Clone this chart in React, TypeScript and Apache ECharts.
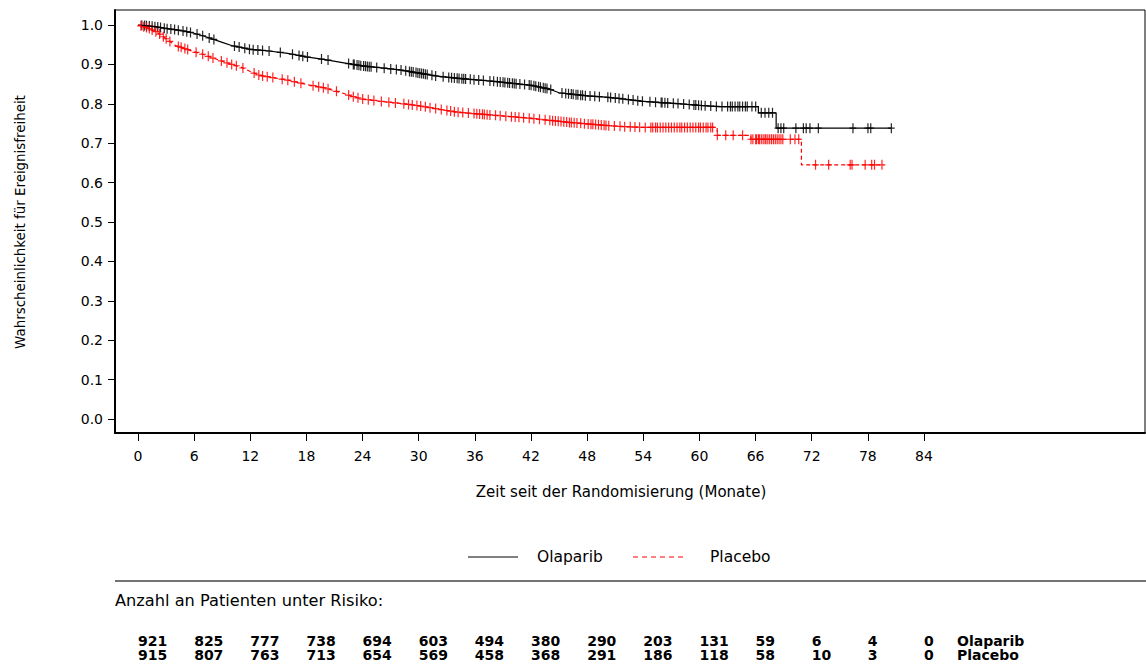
import React, { useEffect, useRef } from "react";
import * as echarts from "echarts";

// ---- data ----
const xTicks = [0, 6, 12, 18, 24, 30, 36, 42, 48, 54, 60, 66, 72, 78, 84];
const yTicks = [0, 0.1, 0.2, 0.3, 0.4, 0.5, 0.6, 0.7, 0.8, 0.9, 1.0];

const olaparibTime = [0, 1, 2, 3, 4, 5, 6, 7, 8, 9, 10, 11, 12, 14, 16, 18, 20, 22, 24, 26, 28, 30, 32, 34, 36, 38, 40, 42, 44, 45, 48, 50, 52, 54, 56, 58, 60, 62, 66.3, 66.3, 68.2, 68.2, 80.5];
const olaparibSurv = [1, 0.998, 0.995, 0.991, 0.988, 0.984, 0.979, 0.972, 0.964, 0.956, 0.948, 0.943, 0.938, 0.934, 0.928, 0.919, 0.912, 0.904, 0.896, 0.891, 0.886, 0.878, 0.87, 0.865, 0.861, 0.857, 0.852, 0.847, 0.837, 0.828, 0.82, 0.817, 0.812, 0.806, 0.803, 0.8, 0.796, 0.793, 0.793, 0.777, 0.777, 0.738, 0.738];

const placeboTime = [0, 1, 2, 3, 4, 5, 6, 7, 8, 9, 10, 11, 12, 13, 14, 16, 18, 20, 22, 23, 24, 26, 28, 30, 32, 34, 36, 38, 40, 42, 44, 46, 48, 50, 52, 54, 61.9, 61.9, 65.5, 65.5, 70.9, 70.9, 79.7];
const placeboSurv = [1, 0.993, 0.982, 0.965, 0.948, 0.94, 0.932, 0.925, 0.916, 0.908, 0.9, 0.893, 0.882, 0.872, 0.868, 0.86, 0.849, 0.84, 0.826, 0.818, 0.812, 0.806, 0.801, 0.795, 0.787, 0.779, 0.775, 0.771, 0.767, 0.763, 0.758, 0.753, 0.749, 0.745, 0.742, 0.74, 0.74, 0.72, 0.72, 0.71, 0.71, 0.645, 0.645];

const olaparibCensor = [0.4, 0.7, 0.9, 1.2, 1.5, 1.8, 2.1, 2.4, 2.8, 3.1, 3.5, 3.9, 4.3, 4.8, 5.2, 5.6, 6.3, 6.9, 7.6, 8.1, 10.3, 10.8, 11.4, 11.9, 12.3, 12.8, 13.3, 14.0, 15.2, 16.5, 17.2, 17.6, 18.1, 19.6, 20.3, 22.5, 23.0, 23.1, 23.4, 23.6, 23.8, 24.1, 24.3, 24.5, 24.7, 24.9, 25.5, 26.3, 27.0, 27.6, 28.1, 28.6, 29.0, 29.2, 29.4, 29.7, 29.9, 30.1, 30.3, 30.5, 30.7, 30.9, 31.4, 31.8, 32.6, 33.2, 33.5, 33.8, 34.1, 34.3, 34.6, 34.8, 35.0, 35.5, 35.9, 36.4, 36.9, 37.6, 38.0, 38.4, 38.7, 39.0, 39.2, 39.5, 39.7, 40.0, 40.2, 40.4, 40.8, 41.3, 41.8, 42.0, 42.3, 42.5, 42.8, 43.0, 43.3, 43.5, 43.7, 44.1, 45.3, 45.7, 46.0, 46.3, 46.5, 46.8, 47.0, 47.3, 47.5, 47.8, 48.3, 48.8, 49.3, 50.2, 50.5, 51.0, 51.4, 51.8, 52.4, 52.9, 53.4, 53.9, 54.7, 55.3, 55.9, 56.0, 56.3, 56.6, 57.2, 57.7, 58.3, 58.9, 59.4, 59.6, 59.9, 60.2, 60.6, 61.2, 61.8, 62.4, 63.0, 63.3, 63.5, 63.8, 64.1, 64.3, 64.6, 64.9, 65.1, 65.6, 66.0, 66.6, 67.0, 67.4, 67.8, 68.4, 68.7, 69.0, 70.3, 71.1, 71.4, 71.8, 72.7, 76.4, 78.0, 78.3, 80.5];

const placeboCensor = [0.3, 0.6, 0.9, 1.2, 1.5, 1.9, 2.3, 2.7, 3.0, 3.4, 4.3, 4.6, 5.0, 5.3, 6.2, 6.9, 7.5, 8.0, 8.9, 9.5, 10.0, 10.5, 11.2, 12.4, 12.9, 13.3, 13.8, 14.4, 15.4, 16.0, 16.7, 17.4, 18.7, 19.3, 19.8, 20.3, 21.2, 22.5, 23.0, 23.5, 24.0, 24.6, 25.2, 26.0, 26.8, 27.5, 28.4, 28.9, 29.3, 29.8, 30.2, 30.7, 31.2, 31.8, 32.4, 33.0, 33.4, 33.8, 34.2, 34.7, 35.3, 35.9, 36.2, 36.5, 36.8, 37.0, 37.3, 37.6, 38.2, 38.7, 39.3, 39.9, 40.3, 40.7, 41.2, 41.8, 42.3, 42.9, 43.5, 44.0, 44.3, 44.6, 44.9, 45.2, 45.5, 45.8, 46.1, 46.3, 46.6, 46.9, 47.3, 47.7, 48.1, 48.4, 48.6, 48.9, 49.2, 49.5, 49.8, 50.0, 50.3, 50.9, 51.5, 52.0, 52.6, 53.1, 53.6, 54.2, 54.8, 55.0, 55.3, 55.5, 55.8, 56.1, 56.4, 56.7, 57.0, 57.3, 57.6, 57.9, 58.1, 58.4, 58.7, 59.0, 59.3, 59.6, 59.9, 60.1, 60.4, 60.7, 60.9, 61.2, 61.4, 61.9, 62.8, 63.6, 64.6, 65.5, 65.7, 66.0, 66.1, 66.3, 66.4, 66.6, 66.8, 67.0, 67.1, 67.3, 67.5, 67.7, 67.9, 68.1, 68.3, 68.5, 68.7, 68.9, 69.7, 70.2, 70.6, 72.4, 73.8, 76.1, 76.3, 77.7, 78.4, 78.7, 79.5];

const riskTimes = [0, 6, 12, 18, 24, 30, 36, 42, 48, 54, 60, 66, 72, 78, 84];
const riskOlaparib = [921, 825, 777, 738, 694, 603, 494, 380, 290, 203, 131, 59, 6, 4, 0];
const riskPlacebo = [915, 807, 763, 713, 654, 569, 458, 368, 291, 186, 118, 58, 10, 3, 0];

const FONT = "'DejaVu Sans', Verdana, sans-serif";
const PLUS = "path://M3,0h1.2v4.4h2.8v1.2h-2.8v4.4h-1.2v-4.4h-3v-1.2h3z";

function survAt(times: number[], surv: number[], t: number): number {
  let i = 0;
  for (let k = 0; k < times.length; k++) if (times[k] <= t) i = k;
  if (i + 1 < times.length && times[i + 1] > times[i] && times[i + 1] > t) {
    const f = (t - times[i]) / (times[i + 1] - times[i]);
    return surv[i] + f * (surv[i + 1] - surv[i]);
  }
  return surv[i];
}

export default function App() {
  const ref = useRef<HTMLDivElement>(null);
  useEffect(() => {
    if (!ref.current) return;
    const chart = echarts.init(ref.current, undefined, { renderer: "svg" });
    const option: any = {
      animation: false,
      grid: {
        left: 115, top: 10, right: 1, bottom: 231,
        show: true, borderColor: "#000", borderWidth: 1,
      },
      xAxis: {
        type: "value", min: -2.458, max: 107.62,
        axisLine: { show: true, onZero: false, lineStyle: { color: "#000", width: 2 } },
        axisTick: { show: true, length: 8, customValues: xTicks, lineStyle: { color: "#000", width: 1 } },
        axisLabel: { customValues: xTicks, margin: 16, fontFamily: FONT, fontSize: 14, color: "#000" },
        splitLine: { show: false },
      },
      yAxis: {
        type: "value", min: -0.0355, max: 1.038,
        axisLine: { show: true, onZero: false, lineStyle: { color: "#000", width: 2 } },
        axisTick: { show: true, length: 7, customValues: yTicks, lineStyle: { color: "#000", width: 1 } },
        axisLabel: {
          customValues: yTicks, margin: 12, fontFamily: FONT, fontSize: 14, color: "#000",
          formatter: (v: number) => v.toFixed(1),
        },
        splitLine: { show: false },
      },
      series: [
        {
          type: "line", name: "Olaparib", showSymbol: false, silent: true,
          data: olaparibTime.map((t, i) => [t, olaparibSurv[i]]),
          lineStyle: { color: "#000", width: 1.2 },
        },
        {
          type: "line", name: "Placebo", showSymbol: false, silent: true,
          data: placeboTime.map((t, i) => [t, placeboSurv[i]]),
          lineStyle: { color: "#ff0000", width: 1.2, type: [4, 3] },
        },
        {
          type: "scatter", silent: true, symbol: PLUS, symbolSize: [7, 10],
          data: olaparibCensor.map((t) => [t, survAt(olaparibTime, olaparibSurv, t)]),
          itemStyle: { color: "#000", opacity: 0.85 },
        },
        {
          type: "scatter", silent: true, symbol: PLUS, symbolSize: [7, 10],
          data: placeboCensor.map((t) => [t, survAt(placeboTime, placeboSurv, t)]),
          itemStyle: { color: "#ff0000", opacity: 0.85 },
        },
      ],
    };
    chart.setOption(option);

    const px = (t: number) => chart.convertToPixel({ xAxisIndex: 0 }, t) as number;
    const graphic: any[] = [
      {
        type: "text", x: 20, y: 222, rotation: Math.PI / 2,
        style: { text: "Wahrscheinlichkeit für Ereignisfreiheit", fontFamily: FONT, fontSize: 13.4, fill: "#000", align: "center", verticalAlign: "middle" },
      },
      {
        type: "text", x: 621, y: 492,
        style: { text: "Zeit seit der Randomisierung (Monate)", fontFamily: FONT, fontSize: 15, fill: "#000", align: "center", verticalAlign: "middle" },
      },
      { type: "line", shape: { x1: 468, y1: 557, x2: 518, y2: 557 }, style: { stroke: "#000", lineWidth: 1 } },
      { type: "text", x: 537, y: 557, style: { text: "Olaparib", fontFamily: FONT, fontSize: 15.5, fill: "#000", verticalAlign: "middle" } },
      { type: "line", shape: { x1: 633, y1: 557, x2: 683, y2: 557 }, style: { stroke: "#ff0000", lineWidth: 1, lineDash: [5, 4] } },
      { type: "text", x: 710, y: 557, style: { text: "Placebo", fontFamily: FONT, fontSize: 15.5, fill: "#000", verticalAlign: "middle" } },
      { type: "line", shape: { x1: 115, y1: 581, x2: 1146, y2: 581 }, style: { stroke: "#444", lineWidth: 1.5 } },
      { type: "text", x: 115, y: 600, style: { text: "Anzahl an Patienten unter Risiko:", fontFamily: FONT, fontSize: 16.2, fill: "#000", verticalAlign: "middle" } },
    ];
    riskTimes.forEach((t, i) => {
      graphic.push({ type: "text", x: px(t), y: 641, style: { text: String(riskOlaparib[i]), fontFamily: FONT, fontSize: 14, fontWeight: "bold", fill: "#000", verticalAlign: "middle" } });
      graphic.push({ type: "text", x: px(t), y: 655, style: { text: String(riskPlacebo[i]), fontFamily: FONT, fontSize: 14, fontWeight: "bold", fill: "#000", verticalAlign: "middle" } });
    });
    graphic.push({ type: "text", x: 957, y: 641, style: { text: "Olaparib", fontFamily: FONT, fontSize: 14, fontWeight: "bold", fill: "#000", verticalAlign: "middle" } });
    graphic.push({ type: "text", x: 957, y: 655, style: { text: "Placebo", fontFamily: FONT, fontSize: 14, fontWeight: "bold", fill: "#000", verticalAlign: "middle" } });
    chart.setOption({ graphic });

    return () => chart.dispose();
  }, []);
  return <div ref={ref} style={{ position: "absolute", left: 0, top: 0, width: 1146, height: 664, background: "#fff" }} />;
}
